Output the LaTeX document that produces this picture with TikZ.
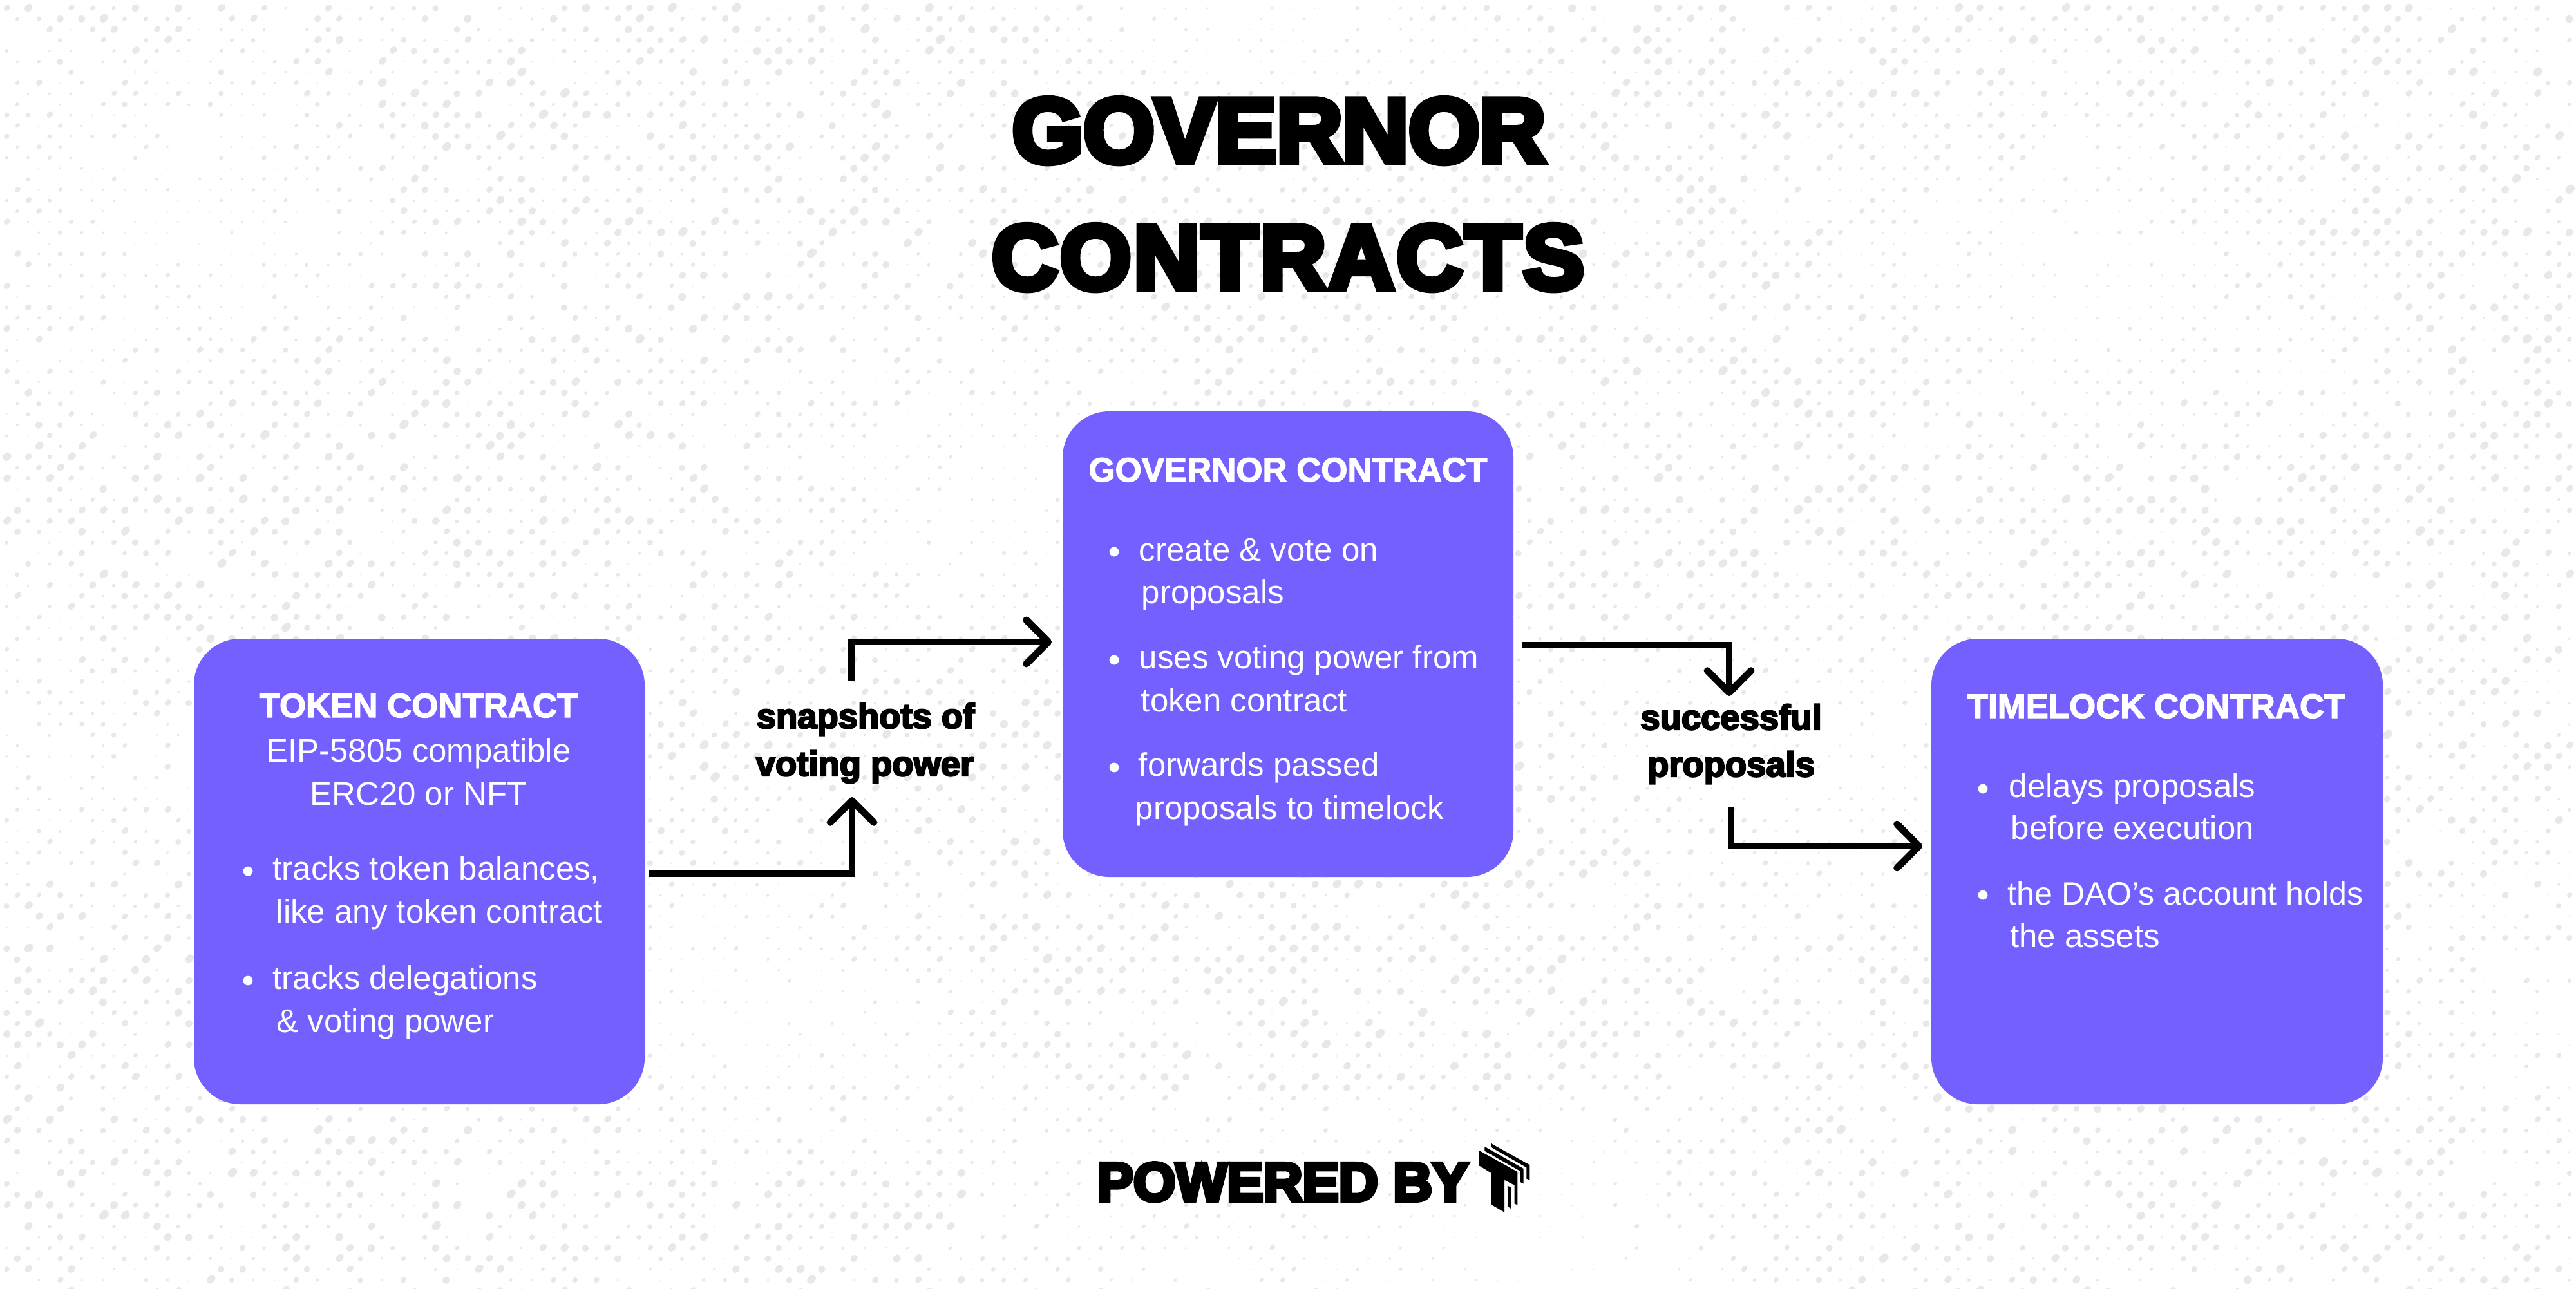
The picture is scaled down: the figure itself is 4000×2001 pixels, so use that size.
\documentclass[tikz,border=0pt]{standalone}
\usepackage{fontspec}
\usetikzlibrary{arrows.meta,calc}
\setmainfont{Liberation Sans}
\newfontfamily\titlefont[FakeBold=7]{Liberation Sans Bold}
\newfontfamily\headfont[FakeBold=2.5]{Liberation Sans Bold}
\newfontfamily\labfont[FakeBold=4.5]{Liberation Sans Bold}
\definecolor{boxviolet}{RGB}{116,95,255}
\definecolor{dotgrey}{RGB}{232,232,232}
\newcount\rngs \newcount\rngt \newcount\rra \newcount\rrb \newcount\rdot \newcount\rmaj
\newcount\dotx \newcount\doty \newcount\cloud \newcount\triv
\global\rngs=4711
\def\rndstep{\rngt=\rngs \multiply\rngt by 1005 \advance\rngt by 12345
  \global\rngs=\rngt \divide\rngt by 1048576 \multiply\rngt by 1048576
  \global\advance\rngs by -\rngt \rngt=\rngs \divide\rngt by 4096 }
% triangular wave: #1 value, #2 period; result 0..100 in \triv
\def\triwave#1#2{\triv=\numexpr #1\relax \divide\triv by #2 \multiply\triv by #2
  \triv=\numexpr (#1)-\triv\relax
  \triv=\numexpr \triv*200/#2-100\relax \ifnum\triv<0 \triv=-\triv\fi}
\makeatletter
\def\dotliteral#1{\pgfsys@invoke{#1}}
\makeatother
\tikzset{
  x=0.25pt,y=-0.25pt,
  box/.style={fill=boxviolet,rounded corners=18pt,inner sep=0pt},
  body/.style={text=white,inner sep=0pt,anchor=base west,font=\fontsize{12.75pt}{15pt}\selectfont},
  head/.style={text=white,inner sep=0pt,anchor=base,font=\headfont\fontsize{13.2pt}{15pt}\selectfont},
  sub/.style={text=white,inner sep=0pt,anchor=base,font=\fontsize{12.75pt}{15pt}\selectfont},
  title/.style={text=black,inner sep=0pt,anchor=base,font=\titlefont\fontsize{35.5pt}{40pt}\selectfont},
  lab/.style={text=black,inner sep=0pt,anchor=base,font=\labfont\fontsize{13.6pt}{15pt}\selectfont},
  dotb/.style={circle,fill=white,inner sep=0pt,minimum size=3.7pt},
  conn/.style={line width=2.7pt,line join=miter,-{Straight Barb[length=8.5pt,width=17pt,round]}},
  logopart/.style={fill=black,draw=none}
}
\begin{document}
\begin{tikzpicture}
\useasboundingbox (0,0) rectangle (4000,2001);
\fill[white] (0,0) rectangle (4000,2001);
% speckled background
\begin{scope}
\clip (0,0) rectangle (4000,2001);
\pgfsetstrokecolor{dotgrey}
\dotliteral{0.024907 0 0 -0.024907 0 0 cm 1 J}
\foreach \j in {0,...,120}{
  \gdef\rowbuf{}
  \foreach \i in {0,...,121}{
    \rndstep \rra=\rngt
    \rndstep \rrb=\rngt
    \ifnum\rra>60
      \dotx=\numexpr \i*333+100\relax
      \ifodd\j \advance\dotx by 166 \fi
      \doty=\numexpr \j*166+130\relax
      \triwave{\dotx+\doty/2+3000}{15000}\cloud=\triv
      \triwave{\doty-\dotx/3+20000}{9000}\advance\cloud by \triv
      \cloud=\numexpr \cloud*7/10+30\relax
      \ifnum\cloud>100 \cloud=100 \fi
      \ifnum\doty>17000 \ifnum\dotx>15000 \ifnum\dotx<25000 \cloud=\numexpr\cloud*6/10\relax \fi\fi\fi
      \rdot=\numexpr (18+\rrb*100/255)*\cloud/100\relax
      \rndstep \rmaj=\numexpr \rngt*\rdot*30/25500\relax
      \ifnum\rdot>10
      \xdef\rowbuf{\rowbuf\space \the\rdot\space w \the\dotx\space \the\doty\space m \the\numexpr\dotx+\rmaj\relax\space \the\numexpr\doty-\rmaj\relax\space l S}
      \fi
    \fi
  }
  \dotliteral{\rowbuf}
}
\end{scope}
% title
\node[title] (t1) at (1986,252) {GOVERNOR};
\node[title] (t2) at (2000,449) {\addfontfeature{LetterSpace=2.5}CONTRACTS};
% boxes
\node[box,minimum width=175pt,minimum height=180.75pt] (token) at (651,1353.5) {};
\node[box,minimum width=175pt,minimum height=180.75pt] (gov) at (2000,1000.5) {};
\node[box,minimum width=175.25pt,minimum height=180.75pt] (time) at (3349.5,1353.5) {};
% token contract
\node[head] (tk0) at (650,1114) {TOKEN CONTRACT};
\node[sub] (tk1) at (650,1183) {EIP-5805 compatible};
\node[sub] (tk2) at (650,1250) {ERC20 or NFT};
\node[dotb] (tkb1) at (385,1353) {};
\node[body] (tk3) at (423,1366) {tracks token balances,};
\node[body] (tk4) at (428,1433) {like any token contract};
\node[dotb] (tkb2) at (385,1523) {};
\node[body] (tk5) at (423,1536) {tracks delegations};
\node[body] (tk6) at (429,1603) {\& voting power};
% governor contract
\node[head] (gv0) at (2000,748) {GOVERNOR CONTRACT};
\node[dotb] (gvb1) at (1730,857) {};
\node[body] (gv1) at (1768,871) {create \& vote on};
\node[body] (gv2) at (1772,937.5) {proposals};
\node[dotb] (gvb2) at (1730,1025) {};
\node[body] (gv3) at (1768,1038) {uses voting power from};
\node[body] (gv4) at (1771,1105) {token contract};
\node[dotb] (gvb3) at (1730,1192) {};
\node[body] (gv5) at (1767,1205) {forwards passed};
\node[body] (gv6) at (1762,1272) {proposals to timelock};
% timelock contract
\node[head] (tm0) at (3348,1115) {TIMELOCK CONTRACT};
\node[dotb] (tmb1) at (3079,1225) {};
\node[body] (tm1) at (3119,1238.5) {delays proposals};
\node[body] (tm2) at (3122,1303) {before execution};
\node[dotb] (tmb2) at (3079,1390) {};
\node[body,font=\fontsize{12.55pt}{15pt}\selectfont] (tm3) at (3117,1405) {the DAO’s account holds};
\node[body] (tm4) at (3120.5,1471) {the assets};
% connector labels
\node[lab] (s1) at (1344,1131) {snapshots of};
\node[lab] (s2) at (1343,1205) {voting power};
\node[lab] (p1) at (2688,1133) {successful};
\node[lab] (p2) at (2688,1206) {proposals};
% connector ends
\coordinate (c1a) at (1008,1357);
\coordinate (c1b) at (1323,1238);
\coordinate (c2a) at (1322,1057);
\coordinate (c2b) at (1633,997);
\coordinate (c3a) at (2363,1002);
\coordinate (c3b) at (2685,1081);
\coordinate (c4a) at (2688,1253);
\coordinate (c4b) at (2985,1314);
\draw[conn] (c1a) -| (c1b);
\draw[conn] (c2a) |- (c2b);
\draw[conn] (c3a) -| (c3b);
\draw[conn] (c4a) |- (c4b);
% footer
\node[title,font=\titlefont\fontsize{21.1pt}{24pt}\selectfont] (pw) at (1992,1865) {POWERED BY};
% logo: zoom coordinates mapped to picture pixels
\begin{scope}[shift={(1650,1750)},x=0.1212pt,y=-0.0833pt]
\fill[logopart] (1333,110) -- (1457,210) -- (1457,365) -- (1447,358) -- (1447,272) -- (1415,248) -- (1415,398) -- (1372,362) -- (1372,215) -- (1333,180) -- cycle;
\fill[logopart] (1425,275) -- (1437,283) -- (1437,382) -- (1426,372) -- cycle;
\fill[logopart] (1352,93) -- (1476,195) -- (1476,265) -- (1466,258) -- (1466,207) -- (1352,113) -- cycle;
\fill[logopart] (1372,78) -- (1496,178) -- (1496,248) -- (1486,242) -- (1486,190) -- (1372,95) -- cycle;
\end{scope}
\end{tikzpicture}
\end{document}
